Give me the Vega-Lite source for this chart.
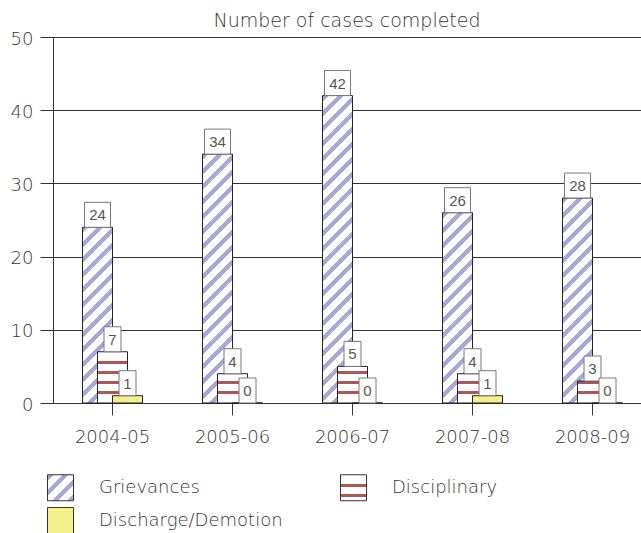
{
  "$schema": "https://vega.github.io/schema/vega-lite/v6.json",
  "width": 588,
  "height": 366,
  "autosize": {"type": "none"},
  "padding": {"left": 53, "top": 37, "right": 0, "bottom": 130},
  "background": "white",
  "title": {"text": "Number of cases completed", "font": "DejaVu Sans", "fontSize": 19, "fontWeight": 200, "color": "#333", "anchor": "middle", "frame": "group", "baseline": "alphabetic", "offset": -16},
  "params": [
    {"name": "gstops", "value": [
      {"offset": 0, "color": "#ffffff"}, {"offset": 0, "color": "#a8a8d8"}, {"offset": 0.016667, "color": "#a8a8d8"}, {"offset": 0.016667, "color": "#ffffff"},
      {"offset": 0.041667, "color": "#ffffff"}, {"offset": 0.041667, "color": "#a8a8d8"}, {"offset": 0.058333, "color": "#a8a8d8"}, {"offset": 0.058333, "color": "#ffffff"},
      {"offset": 0.083333, "color": "#ffffff"}, {"offset": 0.083333, "color": "#a8a8d8"}, {"offset": 0.1, "color": "#a8a8d8"}, {"offset": 0.1, "color": "#ffffff"},
      {"offset": 0.125, "color": "#ffffff"}, {"offset": 0.125, "color": "#a8a8d8"}, {"offset": 0.141667, "color": "#a8a8d8"}, {"offset": 0.141667, "color": "#ffffff"},
      {"offset": 0.166667, "color": "#ffffff"}, {"offset": 0.166667, "color": "#a8a8d8"}, {"offset": 0.183333, "color": "#a8a8d8"}, {"offset": 0.183333, "color": "#ffffff"},
      {"offset": 0.208333, "color": "#ffffff"}, {"offset": 0.208333, "color": "#a8a8d8"}, {"offset": 0.225, "color": "#a8a8d8"}, {"offset": 0.225, "color": "#ffffff"},
      {"offset": 0.25, "color": "#ffffff"}, {"offset": 0.25, "color": "#a8a8d8"}, {"offset": 0.266667, "color": "#a8a8d8"}, {"offset": 0.266667, "color": "#ffffff"},
      {"offset": 0.291667, "color": "#ffffff"}, {"offset": 0.291667, "color": "#a8a8d8"}, {"offset": 0.308333, "color": "#a8a8d8"}, {"offset": 0.308333, "color": "#ffffff"},
      {"offset": 0.333333, "color": "#ffffff"}, {"offset": 0.333333, "color": "#a8a8d8"}, {"offset": 0.35, "color": "#a8a8d8"}, {"offset": 0.35, "color": "#ffffff"},
      {"offset": 0.375, "color": "#ffffff"}, {"offset": 0.375, "color": "#a8a8d8"}, {"offset": 0.391667, "color": "#a8a8d8"}, {"offset": 0.391667, "color": "#ffffff"},
      {"offset": 0.416667, "color": "#ffffff"}, {"offset": 0.416667, "color": "#a8a8d8"}, {"offset": 0.433333, "color": "#a8a8d8"}, {"offset": 0.433333, "color": "#ffffff"},
      {"offset": 0.458333, "color": "#ffffff"}, {"offset": 0.458333, "color": "#a8a8d8"}, {"offset": 0.475, "color": "#a8a8d8"}, {"offset": 0.475, "color": "#ffffff"},
      {"offset": 0.5, "color": "#ffffff"}, {"offset": 0.5, "color": "#a8a8d8"}, {"offset": 0.516667, "color": "#a8a8d8"}, {"offset": 0.516667, "color": "#ffffff"},
      {"offset": 0.541667, "color": "#ffffff"}, {"offset": 0.541667, "color": "#a8a8d8"}, {"offset": 0.558333, "color": "#a8a8d8"}, {"offset": 0.558333, "color": "#ffffff"},
      {"offset": 0.583333, "color": "#ffffff"}, {"offset": 0.583333, "color": "#a8a8d8"}, {"offset": 0.6, "color": "#a8a8d8"}, {"offset": 0.6, "color": "#ffffff"},
      {"offset": 0.625, "color": "#ffffff"}, {"offset": 0.625, "color": "#a8a8d8"}, {"offset": 0.641667, "color": "#a8a8d8"}, {"offset": 0.641667, "color": "#ffffff"},
      {"offset": 0.666667, "color": "#ffffff"}, {"offset": 0.666667, "color": "#a8a8d8"}, {"offset": 0.683333, "color": "#a8a8d8"}, {"offset": 0.683333, "color": "#ffffff"},
      {"offset": 0.708333, "color": "#ffffff"}, {"offset": 0.708333, "color": "#a8a8d8"}, {"offset": 0.725, "color": "#a8a8d8"}, {"offset": 0.725, "color": "#ffffff"},
      {"offset": 0.75, "color": "#ffffff"}, {"offset": 0.75, "color": "#a8a8d8"}, {"offset": 0.766667, "color": "#a8a8d8"}, {"offset": 0.766667, "color": "#ffffff"},
      {"offset": 0.791667, "color": "#ffffff"}, {"offset": 0.791667, "color": "#a8a8d8"}, {"offset": 0.808333, "color": "#a8a8d8"}, {"offset": 0.808333, "color": "#ffffff"},
      {"offset": 0.833333, "color": "#ffffff"}, {"offset": 0.833333, "color": "#a8a8d8"}, {"offset": 0.85, "color": "#a8a8d8"}, {"offset": 0.85, "color": "#ffffff"},
      {"offset": 0.875, "color": "#ffffff"}, {"offset": 0.875, "color": "#a8a8d8"}, {"offset": 0.891667, "color": "#a8a8d8"}, {"offset": 0.891667, "color": "#ffffff"},
      {"offset": 0.916667, "color": "#ffffff"}, {"offset": 0.916667, "color": "#a8a8d8"}, {"offset": 0.933333, "color": "#a8a8d8"}, {"offset": 0.933333, "color": "#ffffff"},
      {"offset": 0.958333, "color": "#ffffff"}, {"offset": 0.958333, "color": "#a8a8d8"}, {"offset": 0.975, "color": "#a8a8d8"}, {"offset": 0.975, "color": "#ffffff"},
      {"offset": 1, "color": "#ffffff"}
    ]},
    {"name": "dstops", "value": [
      {"offset": 0, "color": "#ffffff"}, {"offset": 0.2, "color": "#ffffff"}, {"offset": 0.2, "color": "#b05555"}, {"offset": 0.266667, "color": "#b05555"}, {"offset": 0.266667, "color": "#ffffff"},
      {"offset": 0.422222, "color": "#ffffff"}, {"offset": 0.422222, "color": "#b05555"}, {"offset": 0.488889, "color": "#b05555"}, {"offset": 0.488889, "color": "#ffffff"},
      {"offset": 0.644444, "color": "#ffffff"}, {"offset": 0.644444, "color": "#b05555"}, {"offset": 0.711111, "color": "#b05555"}, {"offset": 0.711111, "color": "#ffffff"},
      {"offset": 0.866667, "color": "#ffffff"}, {"offset": 0.866667, "color": "#b05555"}, {"offset": 0.933333, "color": "#b05555"}, {"offset": 0.933333, "color": "#ffffff"},
      {"offset": 1, "color": "#ffffff"}
    ]},
    {"name": "glegend", "value": {"gradient": "linear", "x1": 0, "y1": 0, "x2": 1, "y2": 1, "stops": [
      {"offset": 0, "color": "#a8a8d8"}, {"offset": 0.1154, "color": "#a8a8d8"}, {"offset": 0.1154, "color": "#ffffff"},
      {"offset": 0.2885, "color": "#ffffff"}, {"offset": 0.2885, "color": "#a8a8d8"}, {"offset": 0.4038, "color": "#a8a8d8"}, {"offset": 0.4038, "color": "#ffffff"},
      {"offset": 0.5769, "color": "#ffffff"}, {"offset": 0.5769, "color": "#a8a8d8"}, {"offset": 0.6923, "color": "#a8a8d8"}, {"offset": 0.6923, "color": "#ffffff"},
      {"offset": 0.8654, "color": "#ffffff"}, {"offset": 0.8654, "color": "#a8a8d8"}, {"offset": 0.9808, "color": "#a8a8d8"}, {"offset": 0.9808, "color": "#ffffff"},
      {"offset": 1, "color": "#ffffff"}]}},
    {"name": "dlegend", "value": {"gradient": "linear", "x1": 0, "y1": 0, "x2": 0, "y2": 1, "stops": [
      {"offset": 0, "color": "#ffffff"}, {"offset": 0.3462, "color": "#ffffff"}, {"offset": 0.3462, "color": "#b05555"}, {"offset": 0.4615, "color": "#b05555"}, {"offset": 0.4615, "color": "#ffffff"},
      {"offset": 0.7308, "color": "#ffffff"}, {"offset": 0.7308, "color": "#b05555"}, {"offset": 0.8462, "color": "#b05555"}, {"offset": 0.8462, "color": "#ffffff"},
      {"offset": 1, "color": "#ffffff"}]}}
  ],
  "data": {"values": [
    {"year": "2004-05", "series": "Grievances", "value": 24},
    {"year": "2004-05", "series": "Disciplinary", "value": 7},
    {"year": "2004-05", "series": "Discharge/Demotion", "value": 1},
    {"year": "2005-06", "series": "Grievances", "value": 34},
    {"year": "2005-06", "series": "Disciplinary", "value": 4},
    {"year": "2005-06", "series": "Discharge/Demotion", "value": 0},
    {"year": "2006-07", "series": "Grievances", "value": 42},
    {"year": "2006-07", "series": "Disciplinary", "value": 5},
    {"year": "2006-07", "series": "Discharge/Demotion", "value": 0},
    {"year": "2007-08", "series": "Grievances", "value": 26},
    {"year": "2007-08", "series": "Disciplinary", "value": 4},
    {"year": "2007-08", "series": "Discharge/Demotion", "value": 1},
    {"year": "2008-09", "series": "Grievances", "value": 28},
    {"year": "2008-09", "series": "Disciplinary", "value": 3},
    {"year": "2008-09", "series": "Discharge/Demotion", "value": 0}
  ]},
  "encoding": {
    "x": {"field": "year", "type": "nominal", "sort": null, "title": null,
      "scale": {"range": [-0.5, 599.5], "paddingInner": 0, "paddingOuter": 0},
      "axis": {"domain": false, "grid": false, "labelAngle": 0, "tickSize": 12, "tickColor": "#333", "labelPadding": 13, "labelFont": "DejaVu Sans", "labelFontSize": 18, "labelFontWeight": 200, "labelColor": "#333"}},
    "xOffset": {"field": "series", "type": "nominal", "sort": null,
      "scale": {"domain": ["Grievances", "Disciplinary", "Discharge/Demotion"], "range": [37.5, 82.5], "paddingInner": 0, "paddingOuter": 0}},
    "y": {"field": "value", "type": "quantitative", "title": null,
      "scale": {"domain": [0, 50], "nice": false},
      "axis": {"values": [0, 10, 20, 30, 40, 50], "grid": true, "gridColor": "#333", "gridOpacity": 1, "domainColor": "#333", "tickColor": "#333", "tickSize": 13, "labelPadding": 7, "labelOffset": 2, "labelFont": "DejaVu Sans", "labelFontSize": 18, "labelFontWeight": 200, "labelColor": "#333"}}
  },
  "layer": [
    {"mark": {"type": "bar", "width": 30, "stroke": "#222", "strokeWidth": 1},
     "encoding": {
       "fill": {"field": "series", "type": "nominal",
         "scale": {"domain": ["Grievances", "Disciplinary", "Discharge/Demotion"], "range": [{"expr": "glegend"}, {"expr": "dlegend"}, "#f4f08c"]},
         "condition": [
           {"test": "datum.series === 'Grievances'", "value": {"expr": "{gradient: 'linear', x1: 0, y1: 0, x2: 10800 / (900 + pow(scale('y', 0) - scale('y', datum.value), 2)), y2: 360 * (scale('y', 0) - scale('y', datum.value)) / (900 + pow(scale('y', 0) - scale('y', datum.value), 2)), stops: gstops}"}},
           {"test": "datum.series === 'Disciplinary'", "value": {"expr": "{gradient: 'linear', x1: 0, y1: 1, x2: 0, y2: 1 - 45 / (scale('y', 0) - scale('y', datum.value)), stops: dstops}"}}
         ],
         "legend": {"orient": "none", "legendX": -6, "legendY": 437, "direction": "horizontal", "columns": 2, "title": null,
           "symbolType": "square", "symbolSize": 676, "symbolStrokeColor": "#333", "symbolStrokeWidth": 1, "symbolOpacity": 1,
           "labelFont": "DejaVu Sans", "labelFontSize": 18, "labelFontWeight": 200, "labelColor": "#333", "labelOffset": 25, "labelLimit": 400,
           "columnPadding": 55, "rowPadding": 2, "padding": 0}
       }
     }},
    {"transform": [{"filter": "datum.value < 10"}],
     "mark": {"type": "rect", "width": 17, "height": 25, "yOffset": -12.5, "fill": "white", "stroke": "#777", "strokeWidth": 1}},
    {"transform": [{"filter": "datum.value >= 10"}],
     "mark": {"type": "rect", "width": 26, "height": 25, "yOffset": -12.5, "fill": "white", "stroke": "#777", "strokeWidth": 1}},
    {"mark": {"type": "text", "baseline": "middle", "align": "center", "yOffset": -12, "font": "Liberation Sans", "fontSize": 15, "color": "#555"},
     "encoding": {"text": {"field": "value", "type": "quantitative"}}}
  ],
  "config": {"view": {"stroke": null}, "font": "DejaVu Sans"}
}
